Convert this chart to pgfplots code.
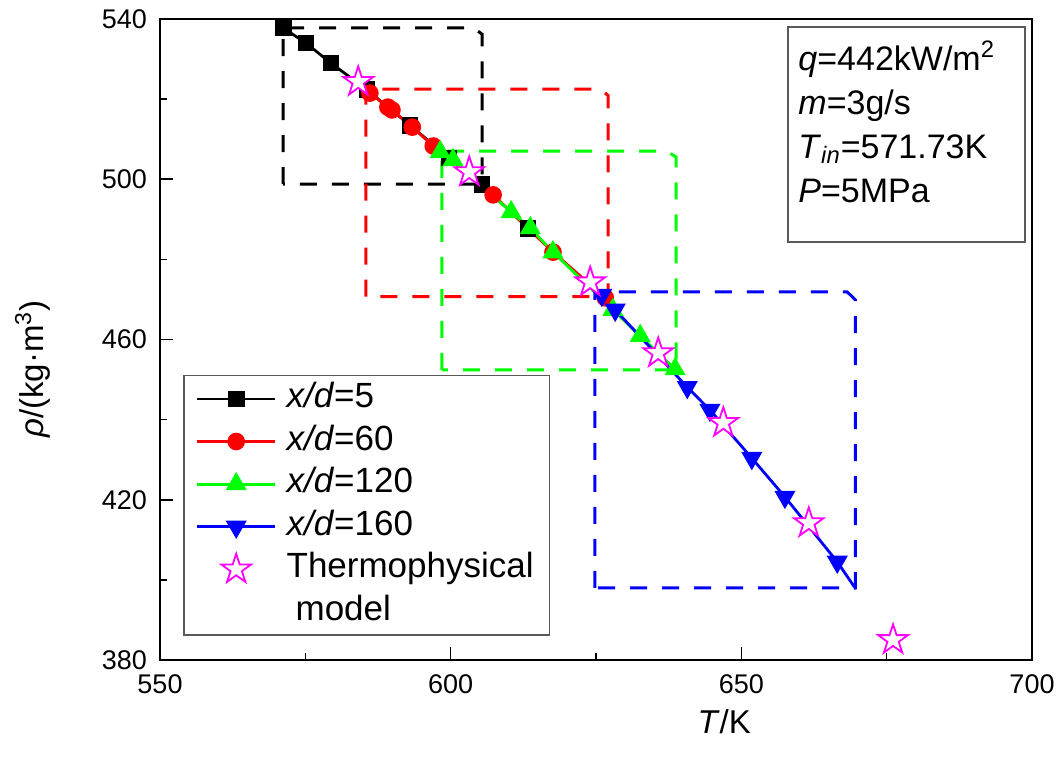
\documentclass[border=0pt]{standalone}
\usepackage{fontspec}
\setmainfont{Liberation Sans}
\usepackage{pgfplots}
\pgfplotsset{compat=1.18}

\definecolor{boxgray}{RGB}{90,90,90}
\definecolor{mag}{RGB}{255,0,255}
\definecolor{grn}{RGB}{0,255,0}

% five-pointed open star, as in the reference
\pgfdeclareplotmark{pentastar}{%
  \pgfpathmoveto{\pgfpointpolar{90}{\pgfplotmarksize}}%
  \pgfpathlineto{\pgfpointpolar{126}{0.382\pgfplotmarksize}}%
  \pgfpathlineto{\pgfpointpolar{162}{\pgfplotmarksize}}%
  \pgfpathlineto{\pgfpointpolar{198}{0.382\pgfplotmarksize}}%
  \pgfpathlineto{\pgfpointpolar{234}{\pgfplotmarksize}}%
  \pgfpathlineto{\pgfpointpolar{270}{0.382\pgfplotmarksize}}%
  \pgfpathlineto{\pgfpointpolar{306}{\pgfplotmarksize}}%
  \pgfpathlineto{\pgfpointpolar{342}{0.382\pgfplotmarksize}}%
  \pgfpathlineto{\pgfpointpolar{18}{\pgfplotmarksize}}%
  \pgfpathlineto{\pgfpointpolar{54}{0.382\pgfplotmarksize}}%
  \pgfpathclose
  \pgfusepathqfillstroke}

\begin{document}
\begin{tikzpicture}
\begin{axis}[
    name=ax,
    at={(0pt,0pt)}, anchor=south west,
    scale only axis,
    width=436pt, height=320.5pt,
    xmin=550, xmax=700,
    ymin=380, ymax=540,
    xtick={550,600,650,700},
    ytick={380,420,460,500,540},
    minor x tick num=1, minor y tick num=1,
    tick pos=left, tick align=inside,
    major tick length=6.5pt, minor tick length=3.5pt,
    every tick/.style={black, line width=0.8pt},
    axis line style={line width=1pt},
    ticklabel style={font=\fontsize{13.5}{16}\selectfont},
    xticklabel style={yshift=-4pt},
    yticklabel style={xshift=-3pt},
    /pgf/number format/assume math mode=true,
    /pgf/number format/1000 sep={},
    xlabel={\textit{T}/K},
    ylabel={\textit{ρ}/(kg·m\textsuperscript{3})},
    xlabel style={at={(axis description cs:0.647,-0.097)}, anchor=center, font=\fontsize{16.5}{20}\selectfont},
    ylabel style={at={(axis description cs:-0.146,0.454)}, anchor=center, font=\fontsize{16.5}{20}\selectfont},
    legend image code/.code={\draw[mark repeat=2,mark phase=2,#1] plot coordinates {(0pt,0pt)(19.5pt,0pt)(39pt,0pt)};},
    legend cell align=left,
    legend style={at={(rel axis cs:0.0264,0.0374)}, anchor=south west,
        draw=boxgray, line width=0.8pt,
        font=\fontsize{17.5}{21}\selectfont,
        inner xsep=6pt, inner ysep=1pt, row sep=0pt, column sep=3pt,
        nodes={text height=12.5pt, text depth=4pt, inner xsep=2pt, inner ysep=2.4pt}},
]

% dashed boxes round each series
\addplot[forget plot, black, line width=1.5pt, dash pattern=on 8.5pt off 7.5pt]
    coordinates {(571.2,498.8)(571.2,537.75)(604.0,537.75)(605.4,536.2)(605.4,498.8)(571.2,498.8)};
\addplot[forget plot, red, line width=1.5pt, dash pattern=on 8.5pt off 7.5pt]
    coordinates {(585.4,470.7)(585.4,522.5)(625.7,522.5)(627.1,520.9)(627.1,470.7)(585.4,470.7)};
\addplot[forget plot, grn, line width=1.5pt, dash pattern=on 8.5pt off 7.5pt]
    coordinates {(598.5,452.4)(598.5,507.0)(637.2,507.0)(638.8,505.5)(638.8,452.4)(598.5,452.4)};
\addplot[forget plot, blue, line width=1.5pt, dash pattern=on 8.5pt off 7.5pt]
    coordinates {(624.8,398.0)(624.8,471.9)(668.2,471.9)(669.6,469.9)(669.6,398.0)(624.8,398.0)};

\addplot[black, line width=1.4pt, mark=square*, mark size=3.5pt, mark options={solid}]
    coordinates {(571.2,537.75)(575.1,534.0)(579.4,529.0)(585.6,522.3)(593.0,513.5)(599.7,505.3)(605.4,498.6)(613.3,487.8)};
\addlegendentry{\textit{x/d}=5}

\addplot[red, line width=1.4pt, mark=*, mark size=3.7pt, mark options={solid}]
    coordinates {(586.1,521.5)(589.2,518.0)(589.9,517.3)(593.4,513.0)(597.0,508.3)(607.3,496.1)(617.6,481.8)(626.6,470.4)};
\addlegendentry{\textit{x/d}=60}

\addplot[grn, line width=1.4pt, mark=triangle*, mark size=4.7pt, mark options={solid}]
    coordinates {(598.2,506.8)(600.4,504.8)(610.4,491.8)(613.7,487.8)(617.6,481.8)(627.9,467.4)(632.6,460.9)(638.6,452.6)};
\addlegendentry{\textit{x/d}=120}

\addplot[blue, line width=1.4pt, mark=triangle*, mark size=4.7pt, mark options={solid, rotate=180}]
    coordinates {(626.0,471.1)(628.3,467.4)(640.7,448.1)(644.6,442.4)(651.8,430.4)(657.5,420.7)(666.5,404.5)};
\addlegendentry{\textit{x/d}=160}
\addplot[forget plot, blue, line width=1.4pt]
    coordinates {(666.5,404.5)(669.7,397.7)};

\addplot[only marks, mag, mark=pentastar, mark size=7.8pt, mark options={solid, line width=0.9pt, fill=white}]
    coordinates {(584.1,524.3)(603.2,501.8)(624.0,474.3)(635.7,456.6)(646.9,439.2)(661.6,414.2)(676.1,385.0)};
\addlegendentry{Thermophysical}
\addlegendimage{empty legend}
\addlegendentry{\hspace{4.5pt}model}

% parameter box
\draw[boxgray, line width=0.8pt] (rel axis cs:0.7202,0.6521) rectangle (rel axis cs:0.992,0.9875);
\node[anchor=north west, align=left, inner sep=0pt, font=\fontsize{17}{22}\selectfont]
    at (rel axis cs:0.7317,0.966)
    {\textit{q}=442kW/m\textsuperscript{2}\\
     \textit{m}=3g/s\\
     \textit{T}\textsubscript{\textit{in}}=571.73K\\
     \textit{P}=5MPa};
\end{axis}
\pgfresetboundingbox
\useasboundingbox ([shift={(-80pt,-51pt)}]ax.south west) rectangle ([shift={(15.5pt,9.5pt)}]ax.north east);
\end{tikzpicture}
\end{document}
